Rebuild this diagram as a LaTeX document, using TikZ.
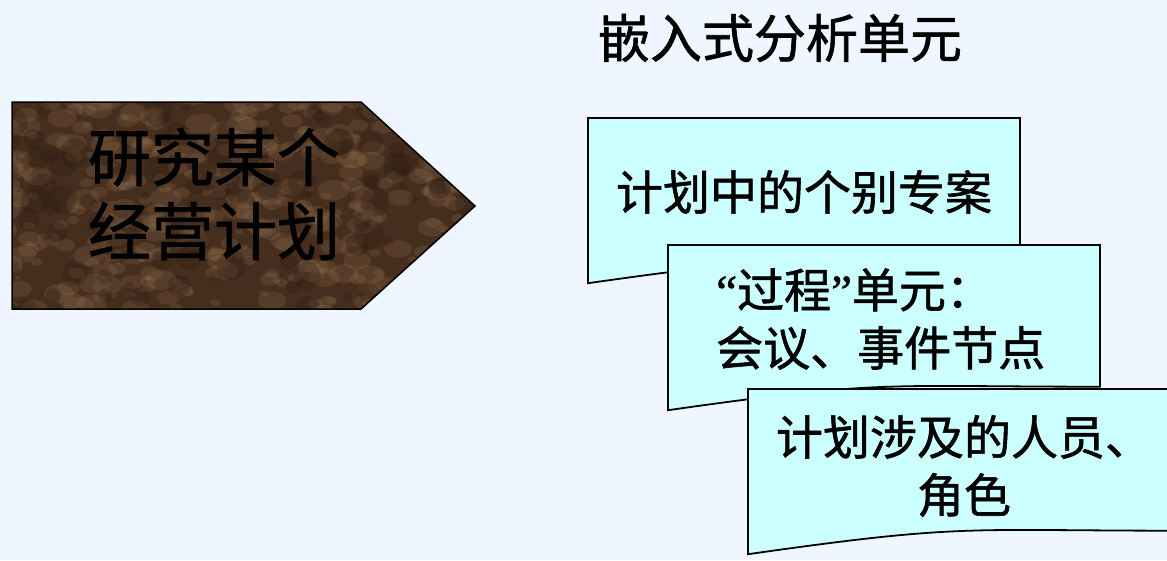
\documentclass[tikz,border=0pt]{standalone}
\usepackage{fontspec}
\newfontfamily\cjk[FakeBold=1.2]{Noto Sans CJK SC}
\newfontfamily\qfont[FakeBold=1.2]{Liberation Serif}
\definecolor{bgblue}{RGB}{240,246,255}
\definecolor{boxcyan}{RGB}{204,255,255}
\definecolor{marbleA}{RGB}{70,46,30}
\definecolor{marbleB}{RGB}{150,118,84}
\definecolor{marbleC}{RGB}{45,28,18}
\tikzset{
  docbox/.style={fill=boxcyan, draw=black, line width=1.8pt},
  boxtext/.style={font=\cjk\fontsize{47}{58}\selectfont, text=black, inner sep=0pt},
  bigtext/.style={font=\cjk\fontsize{63}{74}\selectfont, text=black, inner sep=0pt, align=left},
}
\newcommand\mydoc[2]{%
  \draw[docbox] (#1,#2) -- ++(432,0) -- ++(0,141.7)
    .. controls ++(-216,0) and ++(216,-30.8) .. ++(-432,23.5) -- cycle;}
\begin{document}
\begin{tikzpicture}[x=1pt,y=-1pt]
\useasboundingbox (0,0) rectangle (1167,560);
\clip (0,0) rectangle (1167,560);
\fill[bgblue] (0,0) rectangle (1167,560);
% pentagon arrow
\begin{scope}
  \clip (12,102) -- (361,102) -- (475,206) -- (361,309) -- (12,309) -- cycle;
  \fill[marbleA] (0,90) rectangle (480,320);
  \pgfmathsetseed{11}
  \foreach \i in {1,...,400}{
    \pgfmathsetmacro\px{rnd*480}
    \pgfmathsetmacro\py{100+rnd*215}
    \pgfmathsetmacro\pr{2+rnd*8}
    \fill[marbleB, opacity=0.22] (\px,\py) ellipse ({\pr*1.6} and \pr);
  }
  \foreach \i in {1,...,120}{
    \pgfmathsetmacro\px{rnd*480}
    \pgfmathsetmacro\py{100+rnd*215}
    \pgfmathsetmacro\pr{3+rnd*12}
    \fill[marbleC, opacity=0.3] (\px,\py) circle (\pr);
  }
\end{scope}
\draw[black, line width=1.5pt] (12,102) -- (361,102) -- (475,206) -- (361,309) -- (12,309) -- cycle;
\node[bigtext] (plan) at (214,194) {研究某个\\经营计划};
% title
\node[font=\cjk\fontsize{52}{60}\selectfont, inner sep=0pt] (title) at (780,38) {嵌入式分析单元};
% document boxes
\mydoc{588}{118}
\node[boxtext] (b1) at (804,192) {计划中的个别专案};
\mydoc{668}{245}
\node[boxtext, align=left, anchor=west] (b2) at (716,319) {{\qfont “}过程{\qfont ”}单元：\\会议、事件节点};
\mydoc{748}{389}
\node[boxtext, align=center] (b3) at (964,466) {计划涉及的人员、\\角色};
\end{tikzpicture}
\end{document}
